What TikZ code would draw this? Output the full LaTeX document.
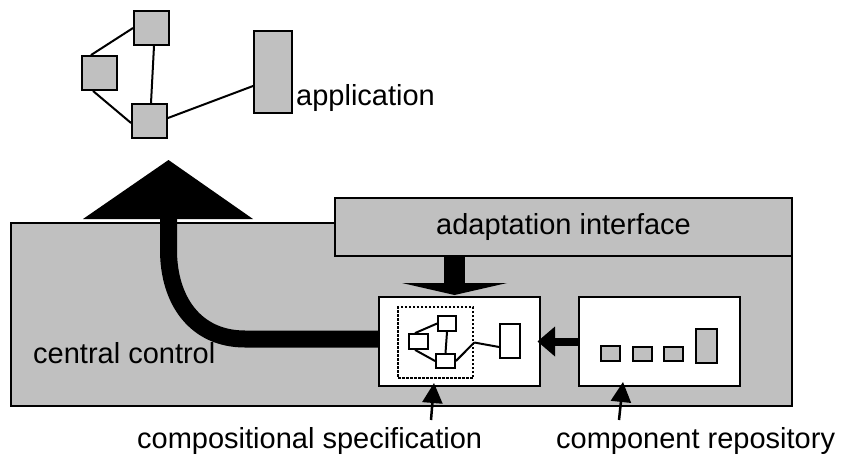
\documentclass[tikz,border=0pt]{standalone}
\usepackage{fontspec}
\setmainfont{Liberation Sans}
\usetikzlibrary{calc,arrows.meta}
\definecolor{silver}{HTML}{C0C0C0}
\tikzset{
  graybox/.style={draw=black, fill=silver, line width=1.8pt, inner sep=0pt},
  whitebox/.style={draw=black, fill=white, line width=2pt, inner sep=0pt},
  smallbox/.style={draw=black, fill=silver, line width=1.9pt, inner sep=0pt},
  tinybox/.style={draw=black, fill=white, line width=1.8pt, inner sep=0pt},
  link/.style={line width=2pt},
  label/.style={inner sep=0pt, font=\fontsize{29}{33}\selectfont},
  pointer/.style={line width=2.5pt, -{Triangle[length=20pt,width=20pt]}},
}
\begin{document}
\begin{tikzpicture}[x=1pt,y=-1pt]
\useasboundingbox (0,0) rectangle (842,463);

% ---- application (top graph) ----
\node[smallbox, minimum width=35pt, minimum height=34pt] (gt) at (151.5,28) {};
\node[smallbox, minimum width=35pt, minimum height=34pt] (gl) at (99.5,73) {};
\node[smallbox, minimum width=35pt, minimum height=34pt] (gb) at (149.5,121) {};
\node[smallbox, minimum width=38pt, minimum height=82pt] (gr) at (273,72) {};
\draw[link] ([xshift=-8.5pt]gl.north) -- (gt.west);
\draw[link] ([xshift=2.5pt]gt.south) -- ([xshift=1.5pt]gb.north);
\draw[link] ([xshift=-6.5pt]gl.south) -- ([yshift=-2pt]gb.west);
\draw[link] ([yshift=3pt]gb.east) -- ([yshift=-14pt]gr.west);
\node[label, anchor=base west] (app) at (296,105) {application};

% ---- central control ----
\node[graybox, minimum width=781pt, minimum height=183pt] (cc) at (401.5,314.5) {};
\node[label, anchor=base west] (cclab) at (33,363) {central control};
\node[graybox, label, minimum width=457pt, minimum height=58pt] (ad) at (563.5,227) {adaptation interface};

% boxes inside central control
\node[whitebox, minimum width=161pt, minimum height=89pt] (comp) at (459.5,341.5) {};
\node[whitebox, minimum width=161pt, minimum height=89pt] (repo) at (659.5,341.5) {};

% big curved arrow towards the application
\coordinate (upbase) at (168.5,219);
\draw[line width=17pt] ([yshift=2.5pt]comp.west) -- (245,339)
  .. controls (195,339) and (168.5,300) .. (168.5,250) -- (upbase);
\fill ($(upbase)+(-85.5,0)$) -- ($(upbase)+(0,-59)$) -- ($(upbase)+(84.5,0)$) -- cycle;

% arrow from adaptation interface down
\coordinate (adhead) at (454.5,283);
\draw[line width=21pt] (ad.south -| adhead) -- (adhead);
\fill ($(adhead)+(-52.5,0)$) -- ($(adhead)+(0,12)$) -- ($(adhead)+(52.5,0)$) -- cycle;

% arrow from repository to composition
\coordinate (rphead) at (555,341.5);
\draw[line width=8pt] (repo.west) -- (rphead);
\fill ($(rphead)+(0,-15)$) -- ($(rphead)+(-17.5,0)$) -- ($(rphead)+(0,15)$) -- cycle;

% compositional specification contents
\node[draw=black, line width=2.5pt, dash pattern=on 2.5pt off 1.5pt, minimum width=75pt, minimum height=71pt, inner sep=0pt] (dot) at (435.5,342.5) {};
\node[tinybox, minimum width=18pt, minimum height=15pt] (ct) at (447,323.5) {};
\node[tinybox, minimum width=19pt, minimum height=15pt] (cl) at (418.5,341.5) {};
\node[tinybox, minimum width=19pt, minimum height=14pt] (cb) at (445.5,361) {};
\node[tinybox, minimum width=20pt, minimum height=34pt] (ctall) at (510,341) {};
\draw[link] ([xshift=-3.5pt]cl.north) -- (ct.west);
\draw[link] (ct.south) -- (cb.north);
\draw[link] ([xshift=-3.5pt]cl.south) -- (cb.west);
\draw[link] (cb.east) -- (dot.east);
\draw[link] (dot.east) -- ([yshift=-6pt]ctall.west);

% component repository contents
\node[smallbox, minimum width=19pt, minimum height=15pt] (r1) at (610.5,353.5) {};
\node[smallbox, minimum width=19pt, minimum height=14pt] (r2) at (642.5,354) {};
\node[smallbox, minimum width=19pt, minimum height=14pt] (r3) at (673.5,354) {};
\node[smallbox, minimum width=21pt, minimum height=34pt] (r4) at (706.5,346) {};

% labels below with pointers
\node[label, anchor=base west] (cslab) at (137,448) {compositional specification};
\node[label, anchor=base west] (crlab) at (556,448) {component repository};
\coordinate (cstail) at (431,420);
\coordinate (cstip) at (434,383);
\coordinate (crtail) at (619,420);
\coordinate (crtip) at (623,382);
\draw[pointer] (cstail) -- (cstip);
\draw[pointer] (crtail) -- (crtip);
\end{tikzpicture}
\end{document}
